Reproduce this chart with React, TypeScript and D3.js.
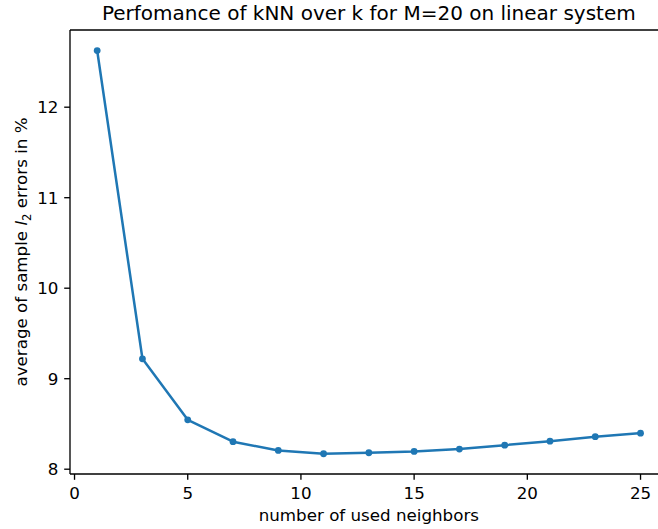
import React from "react";
import * as d3 from "d3";

const ks = [1, 3, 5, 7, 9, 11, 13, 15, 17, 19, 21, 23, 25];
const errors = [12.626, 9.22, 8.546, 8.304, 8.207, 8.171, 8.182, 8.196, 8.222, 8.266, 8.31, 8.359, 8.398];
const xTicks = [0, 5, 10, 15, 20, 25];
const yTicks = [8, 9, 10, 11, 12];

const W = 658, H = 529;
const left = 70, top = 30, bottom = 474;

export default function App() {
  const x = d3.scaleLinear().domain([-0.2, 26.2]).range([left, left + 26.4 * 22.64]);
  const y = d3.scaleLinear().domain([7.947, 12.853]).range([bottom, top]);
  const right = x(26.2);
  const line = d3.line<number>().x((_, i) => x(ks[i])).y((d) => y(d));
  const color = "#1f77b4";
  const font = "DejaVu Sans, sans-serif";
  const fs = 16.7;
  const tl = 5.8;
  return (
    <svg width={W} height={H} style={{ position: "absolute", left: 0, top: 0, background: "#fff" }} fontFamily={font}>
      <rect x={0} y={0} width={W} height={H} fill="#fff" />
      <path d={line(errors) || ""} fill="none" stroke={color} strokeWidth={2.5} strokeLinejoin="round" strokeLinecap="square" />
      {errors.map((d, i) => (
        <circle key={i} cx={x(ks[i])} cy={y(d)} r={3.4} fill={color} />
      ))}
      {/* spines */}
      <line x1={left} x2={left} y1={top} y2={bottom} stroke="#000" strokeWidth={1.33} />
      <line x1={left} x2={right} y1={bottom} y2={bottom} stroke="#000" strokeWidth={1.33} />
      <line x1={left} x2={right} y1={top} y2={top} stroke="#000" strokeWidth={1.33} />
      {xTicks.map((t) => (
        <g key={t} transform={`translate(${x(t)},${bottom})`}>
          <line y1={0} y2={tl} stroke="#000" strokeWidth={1.33} />
          <text y={25} textAnchor="middle" fontSize={fs} fill="#000">{t}</text>
        </g>
      ))}
      {yTicks.map((t) => (
        <g key={t} transform={`translate(${left},${y(t)})`}>
          <line x1={0} x2={-tl} stroke="#000" strokeWidth={1.33} />
          <text x={-11.6} dy="0.36em" textAnchor="end" fontSize={fs} fill="#000">{t}</text>
        </g>
      ))}
      <text x={(left + right) / 2} y={521} textAnchor="middle" fontSize={fs} fill="#000">number of used neighbors</text>
      <text transform={`translate(27,${(top + bottom) / 2}) rotate(-90)`} textAnchor="middle" fontSize={fs} fill="#000">
        average of sample <tspan fontStyle="italic">l</tspan><tspan fontSize={11.7} dy={3.5}>2</tspan><tspan dy={-3.5}> errors in %</tspan>
      </text>
      <text x={(left + right) / 2} y={20} textAnchor="middle" fontSize={20} fill="#000">Perfomance of kNN over k for M=20 on linear system</text>
    </svg>
  );
}
